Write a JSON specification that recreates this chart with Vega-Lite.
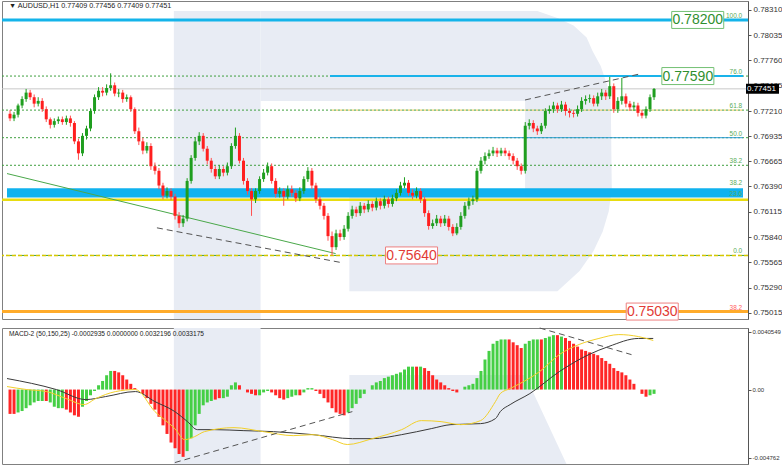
{
"$schema": "https://vega.github.io/schema/vega-lite/v6.json",
"padding": 0,
"background": "white",
"spacing": 2,
"config": {
  "view": {"stroke": "#808080", "strokeWidth": 1},
  "font": "Liberation Sans",
  "axis": {"labelFont": "Liberation Sans", "labelFontSize": 8, "labelColor": "#333333", "domainColor": "#555555", "tickColor": "#555555", "grid": false}
},
"datasets": {
  "c": [
{"h":0,"o":0.7718,"hi":0.7722,"l":0.7710,"c":0.7713,"m":-0.0017,"u":0},
{"h":2,"o":0.7713,"hi":0.7720,"l":0.7710,"c":0.7717,"m":-0.0017,"u":0},
{"h":4,"o":0.7717,"hi":0.7729,"l":0.7714,"c":0.7727,"m":-0.0016,"u":1},
{"h":6,"o":0.7727,"hi":0.7737,"l":0.7724,"c":0.7734,"m":-0.0015,"u":1},
{"h":8,"o":0.7734,"hi":0.7745,"l":0.7731,"c":0.7741,"m":-0.0013,"u":1},
{"h":10,"o":0.7741,"hi":0.7744,"l":0.7733,"c":0.7736,"m":-0.0011,"u":1},
{"h":12,"o":0.7736,"hi":0.7739,"l":0.7725,"c":0.7729,"m":-0.0009,"u":1},
{"h":14,"o":0.7729,"hi":0.7736,"l":0.7726,"c":0.7732,"m":-0.0008,"u":1},
{"h":16,"o":0.7732,"hi":0.7735,"l":0.7720,"c":0.7723,"m":-0.0008,"u":1},
{"h":18,"o":0.7723,"hi":0.7726,"l":0.7709,"c":0.7712,"m":-0.0008,"u":0},
{"h":20,"o":0.7712,"hi":0.7714,"l":0.7702,"c":0.7706,"m":-0.0009,"u":1},
{"h":22,"o":0.7706,"hi":0.7713,"l":0.7703,"c":0.7710,"m":-0.0012,"u":1},
{"h":24,"o":0.7710,"hi":0.7715,"l":0.7707,"c":0.7712,"m":-0.0013,"u":1},
{"h":26,"o":0.7712,"hi":0.7715,"l":0.7706,"c":0.7709,"m":-0.0013,"u":1},
{"h":28,"o":0.7709,"hi":0.7716,"l":0.7706,"c":0.7713,"m":-0.0014,"u":0},
{"h":30,"o":0.7713,"hi":0.7716,"l":0.7704,"c":0.7708,"m":-0.0016,"u":0},
{"h":32,"o":0.7708,"hi":0.7710,"l":0.7685,"c":0.7688,"m":-0.0018,"u":0},
{"h":34,"o":0.7688,"hi":0.7691,"l":0.7668,"c":0.7675,"m":-0.0019,"u":0},
{"h":36,"o":0.7675,"hi":0.7697,"l":0.7672,"c":0.7694,"m":-0.0012,"u":1},
{"h":38,"o":0.7694,"hi":0.7705,"l":0.7690,"c":0.7702,"m":-0.0008,"u":1},
{"h":40,"o":0.7702,"hi":0.7724,"l":0.7699,"c":0.7721,"m":-0.0004,"u":1},
{"h":42,"o":0.7721,"hi":0.7739,"l":0.7718,"c":0.7736,"m":-0.0001,"u":1},
{"h":44,"o":0.7736,"hi":0.7747,"l":0.7733,"c":0.7743,"m":0.0003,"u":1},
{"h":46,"o":0.7743,"hi":0.7747,"l":0.7737,"c":0.7741,"m":0.0006,"u":1},
{"h":48,"o":0.7741,"hi":0.7750,"l":0.7738,"c":0.7746,"m":0.0010,"u":1},
{"h":50,"o":0.7746,"hi":0.7762,"l":0.7743,"c":0.7749,"m":0.0013,"u":1},
{"h":52,"o":0.7749,"hi":0.7752,"l":0.7737,"c":0.7740,"m":0.0013,"u":0},
{"h":54,"o":0.7740,"hi":0.7745,"l":0.7736,"c":0.7741,"m":0.0012,"u":0},
{"h":56,"o":0.7741,"hi":0.7744,"l":0.7730,"c":0.7734,"m":0.0010,"u":0},
{"h":58,"o":0.7734,"hi":0.7739,"l":0.7731,"c":0.7736,"m":0.0007,"u":0},
{"h":60,"o":0.7736,"hi":0.7738,"l":0.7720,"c":0.7723,"m":0.0004,"u":0},
{"h":62,"o":0.7723,"hi":0.7725,"l":0.7696,"c":0.7699,"m":0.0001,"u":0},
{"h":64,"o":0.7699,"hi":0.7703,"l":0.7684,"c":0.7688,"m":0.0000,"u":0},
{"h":66,"o":0.7688,"hi":0.7692,"l":0.7674,"c":0.7678,"m":-0.0003,"u":0},
{"h":68,"o":0.7678,"hi":0.7687,"l":0.7675,"c":0.7683,"m":-0.0006,"u":0},
{"h":70,"o":0.7683,"hi":0.7686,"l":0.7657,"c":0.7661,"m":-0.0010,"u":0},
{"h":72,"o":0.7661,"hi":0.7665,"l":0.7652,"c":0.7656,"m":-0.0014,"u":0},
{"h":74,"o":0.7656,"hi":0.7659,"l":0.7636,"c":0.7640,"m":-0.0019,"u":0},
{"h":76,"o":0.7640,"hi":0.7643,"l":0.7625,"c":0.7629,"m":-0.0025,"u":0},
{"h":78,"o":0.7629,"hi":0.7638,"l":0.7626,"c":0.7634,"m":-0.0031,"u":0},
{"h":80,"o":0.7634,"hi":0.7637,"l":0.7624,"c":0.7628,"m":-0.0037,"u":0},
{"h":82,"o":0.7628,"hi":0.7631,"l":0.7603,"c":0.7607,"m":-0.0041,"u":0},
{"h":84,"o":0.7607,"hi":0.7611,"l":0.7594,"c":0.7599,"m":-0.0045,"u":0},
{"h":86,"o":0.7599,"hi":0.7608,"l":0.7595,"c":0.7604,"m":-0.0047,"u":0},
{"h":88,"o":0.7604,"hi":0.7648,"l":0.7601,"c":0.7645,"m":-0.0043,"u":1},
{"h":90,"o":0.7645,"hi":0.7673,"l":0.7642,"c":0.7670,"m":-0.0034,"u":1},
{"h":92,"o":0.7670,"hi":0.7692,"l":0.7667,"c":0.7688,"m":-0.0025,"u":1},
{"h":94,"o":0.7688,"hi":0.7698,"l":0.7684,"c":0.7694,"m":-0.0017,"u":1},
{"h":96,"o":0.7694,"hi":0.7697,"l":0.7677,"c":0.7680,"m":-0.0011,"u":1},
{"h":98,"o":0.7680,"hi":0.7683,"l":0.7663,"c":0.7667,"m":-0.0009,"u":1},
{"h":100,"o":0.7667,"hi":0.7670,"l":0.7654,"c":0.7658,"m":-0.0008,"u":1},
{"h":102,"o":0.7658,"hi":0.7661,"l":0.7647,"c":0.7650,"m":-0.0007,"u":0},
{"h":104,"o":0.7650,"hi":0.7662,"l":0.7647,"c":0.7658,"m":-0.0006,"u":0},
{"h":106,"o":0.7658,"hi":0.7661,"l":0.7650,"c":0.7654,"m":-0.0006,"u":1},
{"h":108,"o":0.7654,"hi":0.7665,"l":0.7651,"c":0.7661,"m":-0.0005,"u":1},
{"h":110,"o":0.7661,"hi":0.7686,"l":0.7658,"c":0.7683,"m":0.0003,"u":1},
{"h":112,"o":0.7683,"hi":0.7703,"l":0.7680,"c":0.7694,"m":0.0005,"u":1},
{"h":114,"o":0.7694,"hi":0.7697,"l":0.7664,"c":0.7667,"m":0.0003,"u":0},
{"h":116,"o":0.7667,"hi":0.7670,"l":0.7641,"c":0.7645,"m":0.0000,"u":0},
{"h":118,"o":0.7645,"hi":0.7648,"l":0.7630,"c":0.7634,"m":-0.0002,"u":0},
{"h":120,"o":0.7634,"hi":0.7637,"l":0.7607,"c":0.7625,"m":-0.0003,"u":0},
{"h":122,"o":0.7625,"hi":0.7637,"l":0.7621,"c":0.7634,"m":-0.0004,"u":0},
{"h":124,"o":0.7634,"hi":0.7650,"l":0.7631,"c":0.7647,"m":-0.0004,"u":1},
{"h":126,"o":0.7647,"hi":0.7658,"l":0.7644,"c":0.7654,"m":-0.0002,"u":1},
{"h":128,"o":0.7654,"hi":0.7665,"l":0.7651,"c":0.7661,"m":-0.0001,"u":1},
{"h":130,"o":0.7661,"hi":0.7664,"l":0.7642,"c":0.7645,"m":-0.0002,"u":0},
{"h":132,"o":0.7645,"hi":0.7648,"l":0.7627,"c":0.7631,"m":-0.0004,"u":0},
{"h":134,"o":0.7631,"hi":0.7638,"l":0.7627,"c":0.7634,"m":-0.0006,"u":0},
{"h":136,"o":0.7634,"hi":0.7637,"l":0.7618,"c":0.7628,"m":-0.0007,"u":0},
{"h":138,"o":0.7628,"hi":0.7640,"l":0.7625,"c":0.7636,"m":-0.0006,"u":1},
{"h":140,"o":0.7636,"hi":0.7640,"l":0.7628,"c":0.7632,"m":-0.0005,"u":1},
{"h":142,"o":0.7632,"hi":0.7635,"l":0.7622,"c":0.7626,"m":-0.0004,"u":1},
{"h":144,"o":0.7626,"hi":0.7638,"l":0.7623,"c":0.7634,"m":-0.0004,"u":0},
{"h":146,"o":0.7634,"hi":0.7650,"l":0.7631,"c":0.7647,"m":-0.0002,"u":1},
{"h":148,"o":0.7647,"hi":0.7660,"l":0.7644,"c":0.7656,"m":0.0001,"u":1},
{"h":150,"o":0.7656,"hi":0.7659,"l":0.7636,"c":0.7640,"m":0.0001,"u":1},
{"h":152,"o":0.7640,"hi":0.7643,"l":0.7621,"c":0.7625,"m":-0.0001,"u":0},
{"h":154,"o":0.7625,"hi":0.7628,"l":0.7614,"c":0.7618,"m":-0.0003,"u":0},
{"h":156,"o":0.7618,"hi":0.7621,"l":0.7603,"c":0.7607,"m":-0.0006,"u":0},
{"h":158,"o":0.7607,"hi":0.7610,"l":0.7580,"c":0.7585,"m":-0.0009,"u":0},
{"h":160,"o":0.7585,"hi":0.7590,"l":0.7564,"c":0.7573,"m":-0.0013,"u":0},
{"h":162,"o":0.7573,"hi":0.7592,"l":0.7570,"c":0.7588,"m":-0.0016,"u":0},
{"h":164,"o":0.7588,"hi":0.7592,"l":0.7580,"c":0.7584,"m":-0.0017,"u":0},
{"h":166,"o":0.7584,"hi":0.7597,"l":0.7581,"c":0.7593,"m":-0.0018,"u":0},
{"h":168,"o":0.7593,"hi":0.7611,"l":0.7590,"c":0.7607,"m":-0.0016,"u":1},
{"h":170,"o":0.7607,"hi":0.7618,"l":0.7604,"c":0.7614,"m":-0.0013,"u":1},
{"h":172,"o":0.7614,"hi":0.7617,"l":0.7606,"c":0.7610,"m":-0.0010,"u":1},
{"h":174,"o":0.7610,"hi":0.7622,"l":0.7607,"c":0.7618,"m":-0.0006,"u":1},
{"h":176,"o":0.7618,"hi":0.7621,"l":0.7610,"c":0.7614,"m":-0.0003,"u":1},
{"h":178,"o":0.7614,"hi":0.7624,"l":0.7611,"c":0.7620,"m":0.0000,"u":1},
{"h":180,"o":0.7620,"hi":0.7623,"l":0.7612,"c":0.7616,"m":0.0003,"u":1},
{"h":182,"o":0.7616,"hi":0.7627,"l":0.7613,"c":0.7623,"m":0.0005,"u":1},
{"h":184,"o":0.7623,"hi":0.7626,"l":0.7614,"c":0.7618,"m":0.0006,"u":1},
{"h":186,"o":0.7618,"hi":0.7629,"l":0.7615,"c":0.7625,"m":0.0008,"u":1},
{"h":188,"o":0.7625,"hi":0.7628,"l":0.7616,"c":0.7620,"m":0.0009,"u":1},
{"h":190,"o":0.7620,"hi":0.7630,"l":0.7617,"c":0.7626,"m":0.0010,"u":1},
{"h":192,"o":0.7626,"hi":0.7636,"l":0.7623,"c":0.7632,"m":0.0011,"u":1},
{"h":194,"o":0.7632,"hi":0.7644,"l":0.7629,"c":0.7640,"m":0.0012,"u":1},
{"h":196,"o":0.7640,"hi":0.7649,"l":0.7637,"c":0.7643,"m":0.0014,"u":1},
{"h":198,"o":0.7643,"hi":0.7646,"l":0.7629,"c":0.7632,"m":0.0016,"u":1},
{"h":200,"o":0.7632,"hi":0.7636,"l":0.7625,"c":0.7629,"m":0.0016,"u":1},
{"h":202,"o":0.7629,"hi":0.7638,"l":0.7626,"c":0.7634,"m":0.0016,"u":0},
{"h":204,"o":0.7634,"hi":0.7637,"l":0.7621,"c":0.7625,"m":0.0016,"u":1},
{"h":206,"o":0.7625,"hi":0.7628,"l":0.7606,"c":0.7610,"m":0.0015,"u":0},
{"h":208,"o":0.7610,"hi":0.7613,"l":0.7592,"c":0.7596,"m":0.0013,"u":0},
{"h":210,"o":0.7596,"hi":0.7603,"l":0.7593,"c":0.7599,"m":0.0010,"u":0},
{"h":212,"o":0.7599,"hi":0.7608,"l":0.7596,"c":0.7604,"m":0.0007,"u":0},
{"h":214,"o":0.7604,"hi":0.7607,"l":0.7595,"c":0.7599,"m":0.0005,"u":0},
{"h":216,"o":0.7599,"hi":0.7608,"l":0.7596,"c":0.7604,"m":0.0003,"u":0},
{"h":218,"o":0.7604,"hi":0.7607,"l":0.7591,"c":0.7595,"m":0.0001,"u":0},
{"h":220,"o":0.7595,"hi":0.7598,"l":0.7585,"c":0.7588,"m":-0.0001,"u":0},
{"h":222,"o":0.7588,"hi":0.7599,"l":0.7586,"c":0.7595,"m":-0.0002,"u":0},
{"h":224,"o":0.7595,"hi":0.7611,"l":0.7592,"c":0.7607,"m":0.0000,"u":1},
{"h":226,"o":0.7607,"hi":0.7622,"l":0.7604,"c":0.7618,"m":0.0002,"u":1},
{"h":228,"o":0.7618,"hi":0.7627,"l":0.7614,"c":0.7623,"m":0.0003,"u":1},
{"h":230,"o":0.7623,"hi":0.7629,"l":0.7619,"c":0.7625,"m":0.0004,"u":1},
{"h":232,"o":0.7625,"hi":0.7659,"l":0.7622,"c":0.7656,"m":0.0008,"u":1},
{"h":234,"o":0.7656,"hi":0.7671,"l":0.7653,"c":0.7667,"m":0.0013,"u":1},
{"h":236,"o":0.7667,"hi":0.7676,"l":0.7663,"c":0.7672,"m":0.0021,"u":1},
{"h":238,"o":0.7672,"hi":0.7679,"l":0.7669,"c":0.7675,"m":0.0027,"u":1},
{"h":240,"o":0.7675,"hi":0.7682,"l":0.7672,"c":0.7678,"m":0.0032,"u":1},
{"h":242,"o":0.7678,"hi":0.7681,"l":0.7671,"c":0.7675,"m":0.0034,"u":1},
{"h":244,"o":0.7675,"hi":0.7681,"l":0.7672,"c":0.7678,"m":0.0035,"u":1},
{"h":246,"o":0.7678,"hi":0.7681,"l":0.7672,"c":0.7675,"m":0.0035,"u":1},
{"h":248,"o":0.7675,"hi":0.7678,"l":0.7668,"c":0.7672,"m":0.0035,"u":0},
{"h":250,"o":0.7672,"hi":0.7675,"l":0.7663,"c":0.7667,"m":0.0033,"u":0},
{"h":252,"o":0.7667,"hi":0.7670,"l":0.7657,"c":0.7661,"m":0.0031,"u":0},
{"h":254,"o":0.7661,"hi":0.7664,"l":0.7652,"c":0.7656,"m":0.0029,"u":0},
{"h":256,"o":0.7656,"hi":0.7709,"l":0.7653,"c":0.7705,"m":0.0032,"u":1},
{"h":258,"o":0.7705,"hi":0.7712,"l":0.7701,"c":0.7708,"m":0.0034,"u":1},
{"h":260,"o":0.7708,"hi":0.7711,"l":0.7698,"c":0.7702,"m":0.0035,"u":1},
{"h":262,"o":0.7702,"hi":0.7705,"l":0.7695,"c":0.7699,"m":0.0035,"u":1},
{"h":264,"o":0.7699,"hi":0.7708,"l":0.7696,"c":0.7705,"m":0.0035,"u":0},
{"h":266,"o":0.7705,"hi":0.7724,"l":0.7702,"c":0.7721,"m":0.0036,"u":1},
{"h":268,"o":0.7721,"hi":0.7727,"l":0.7718,"c":0.7723,"m":0.0037,"u":1},
{"h":270,"o":0.7723,"hi":0.7731,"l":0.7719,"c":0.7727,"m":0.0038,"u":1},
{"h":272,"o":0.7727,"hi":0.7730,"l":0.7719,"c":0.7723,"m":0.0038,"u":0},
{"h":274,"o":0.7723,"hi":0.7732,"l":0.7720,"c":0.7728,"m":0.0037,"u":1},
{"h":276,"o":0.7728,"hi":0.7731,"l":0.7716,"c":0.7721,"m":0.0036,"u":0},
{"h":278,"o":0.7721,"hi":0.7724,"l":0.7714,"c":0.7719,"m":0.0034,"u":0},
{"h":280,"o":0.7719,"hi":0.7722,"l":0.7714,"c":0.7718,"m":0.0032,"u":0},
{"h":282,"o":0.7718,"hi":0.7727,"l":0.7715,"c":0.7723,"m":0.0030,"u":0},
{"h":284,"o":0.7723,"hi":0.7736,"l":0.7720,"c":0.7732,"m":0.0028,"u":0},
{"h":286,"o":0.7732,"hi":0.7738,"l":0.7728,"c":0.7734,"m":0.0027,"u":0},
{"h":288,"o":0.7734,"hi":0.7739,"l":0.7730,"c":0.7735,"m":0.0026,"u":0},
{"h":290,"o":0.7735,"hi":0.7738,"l":0.7726,"c":0.7729,"m":0.0025,"u":0},
{"h":292,"o":0.7729,"hi":0.7741,"l":0.7726,"c":0.7737,"m":0.0024,"u":0},
{"h":294,"o":0.7737,"hi":0.7745,"l":0.7733,"c":0.7741,"m":0.0022,"u":0},
{"h":296,"o":0.7741,"hi":0.7744,"l":0.7733,"c":0.7737,"m":0.0020,"u":0},
{"h":298,"o":0.7737,"hi":0.7758,"l":0.7734,"c":0.7748,"m":0.0018,"u":0},
{"h":300,"o":0.7748,"hi":0.7751,"l":0.7719,"c":0.7723,"m":0.0015,"u":0},
{"h":302,"o":0.7723,"hi":0.7736,"l":0.7719,"c":0.7732,"m":0.0013,"u":0},
{"h":304,"o":0.7732,"hi":0.7757,"l":0.7728,"c":0.7737,"m":0.0012,"u":0},
{"h":306,"o":0.7737,"hi":0.7740,"l":0.7725,"c":0.7729,"m":0.0010,"u":0},
{"h":308,"o":0.7729,"hi":0.7732,"l":0.7721,"c":0.7725,"m":0.0007,"u":0},
{"h":310,"o":0.7725,"hi":0.7731,"l":0.7721,"c":0.7727,"m":0.0004,"u":0},
{"h":312,"o":0.7727,"hi":0.7730,"l":0.7715,"c":0.7719,"m":0.0000,"u":0},
{"h":314,"o":0.7719,"hi":0.7722,"l":0.7713,"c":0.7716,"m":-0.0003,"u":0},
{"h":316,"o":0.7716,"hi":0.7726,"l":0.7713,"c":0.7723,"m":-0.0005,"u":0},
{"h":318,"o":0.7723,"hi":0.7739,"l":0.7720,"c":0.7736,"m":-0.0004,"u":1},
{"h":320,"o":0.7736,"hi":0.7746,"l":0.7733,"c":0.7745,"m":-0.0003,"u":1}
  ],
  "wm1": [
    {"g":"s","p":0.78297,"a":81.4,"b":124.5},{"g":"s","p":0.74949,"a":81.4,"b":124.5},
    {"g":"t","p":0.78297,"a":124.5,"b":262},{"g":"t","p":0.7822,"a":124.5,"b":272},{"g":"t","p":0.7814,"a":124.5,"b":280},{"g":"t","p":0.7801,"a":124.5,"b":286.5},{"g":"t","p":0.7786,"a":124.5,"b":289.5},{"g":"t","p":0.777,"a":124.5,"b":293.5},{"g":"t","p":0.775,"a":124.5,"b":296.6},{"g":"t","p":0.77319,"a":124.5,"b":298.5},
    {"g":"r","p":0.77319,"a":255.9,"b":298.5},{"g":"r","p":0.76362,"a":255.9,"b":299},
    {"g":"b","p":0.76362,"a":168.6,"b":299},{"g":"b","p":0.7612,"a":168.6,"b":297.5},{"g":"b","p":0.759,"a":168.6,"b":294.5},{"g":"b","p":0.7569,"a":168.6,"b":290},{"g":"b","p":0.7547,"a":168.6,"b":283},{"g":"b","p":0.7525,"a":168.6,"b":272}
  ],
  "wm2": [
    {"g":"s","v":0.0043,"a":81.4,"b":124.5},{"g":"s","v":-0.0052,"a":81.4,"b":124.5},
    {"g":"l","v":0.00102,"a":168.6,"b":255.9},{"g":"l","v":-0.0052,"a":168.6,"b":276.5}
  ],
  "ml": [
    {"g":"k","h":-1.5,"v":0.00077},{"g":"k","h":23,"v":0},{"g":"k","h":37.7,"v":-0.0007},{"g":"k","h":47.5,"v":-0.00049},{"g":"k","h":62.3,"v":-0.00014},{"g":"k","h":72,"v":-0.00084},{"g":"k","h":81.9,"v":-0.00154},{"g":"k","h":88.2,"v":-0.00224},{"g":"k","h":93.1,"v":-0.0028},{"g":"k","h":101.5,"v":-0.0028},{"g":"k","h":116.2,"v":-0.00287},{"g":"k","h":130.9,"v":-0.00294},{"g":"k","h":150.5,"v":-0.00315},{"g":"k","h":170.1,"v":-0.00343},{"g":"k","h":180,"v":-0.00343},{"g":"k","h":194.6,"v":-0.00315},{"g":"k","h":209.3,"v":-0.00273},{"g":"k","h":219.1,"v":-0.00245},{"g":"k","h":233.8,"v":-0.00238},{"g":"k","h":241.2,"v":-0.00203},{"g":"k","h":243.6,"v":-0.00154},{"g":"k","h":248.5,"v":-0.00105},{"g":"k","h":258.3,"v":-0.00028},{"g":"k","h":273,"v":0.00126},{"g":"k","h":287.7,"v":0.00245},{"g":"k","h":297.5,"v":0.00301},{"g":"k","h":312.3,"v":0.00357},{"g":"k","h":319.6,"v":0.00357},
    {"g":"y","h":-1.5,"v":0.00021},{"g":"y","h":8.3,"v":0},{"g":"y","h":18.1,"v":-0.00014},{"g":"y","h":27.9,"v":-0.00063},{"g":"y","h":36.8,"v":-0.00105},{"g":"y","h":42.6,"v":-0.00063},{"g":"y","h":52.5,"v":-0.00014},{"g":"y","h":62.3,"v":0},{"g":"y","h":72,"v":-0.00154},{"g":"y","h":81.9,"v":-0.00273},{"g":"y","h":86.8,"v":-0.0035},{"g":"y","h":91.7,"v":-0.00329},{"g":"y","h":96.6,"v":-0.00294},{"g":"y","h":111.3,"v":-0.00266},{"g":"y","h":126,"v":-0.00294},{"g":"y","h":140.7,"v":-0.00322},{"g":"y","h":150.5,"v":-0.00315},{"g":"y","h":160.3,"v":-0.0035},{"g":"y","h":167.6,"v":-0.00384},{"g":"y","h":180,"v":-0.00343},{"g":"y","h":194.6,"v":-0.0028},{"g":"y","h":204.4,"v":-0.00217},{"g":"y","h":214.2,"v":-0.00224},{"g":"y","h":224,"v":-0.00245},{"g":"y","h":233.8,"v":-0.00217},{"g":"y","h":241.2,"v":-0.00084},{"g":"y","h":243.6,"v":-0.00028},{"g":"y","h":248.5,"v":0.00007},{"g":"y","h":253.4,"v":0.00042},{"g":"y","h":263.2,"v":0.00126},{"g":"y","h":273,"v":0.00245},{"g":"y","h":282.8,"v":0.00315},{"g":"y","h":292.6,"v":0.00357},{"g":"y","h":302.5,"v":0.00384},{"g":"y","h":312.3,"v":0.0037},{"g":"y","h":319.6,"v":0.00343}
  ]
},
"vconcat": [
{
  "width": 746,
  "height": 318,
  "encoding": {
    "y": {"type": "quantitative", "title": null,
      "scale": {"domain": [0.74949, 0.78406], "nice": false, "zero": false},
      "axis": {"orient": "right", "values": [0.7831,0.78035,0.7776,0.77485,0.7721,0.76935,0.76665,0.7639,0.76115,0.7584,0.75565,0.7529,0.75015], "format": ".5f", "tickSize": 3, "labelPadding": 2}}
  },
  "layer": [
    {
      "data": {"name": "c"},
      "mark": {"type": "rule", "strokeWidth": 0, "opacity": 0},
      "encoding": {
        "x": {"field": "h", "type": "quantitative", "axis": null, "scale": {"domain": [-1.5, 364.2], "nice": false, "zero": false}},
        "y": {"field": "c", "type": "quantitative", "title": null}
      }
    },
    {
      "data": {"name": "wm1"},
      "mark": {"type": "area", "orient": "horizontal", "fill": "#e8ecf4"},
      "encoding": {
        "y": {"field": "p", "type": "quantitative", "title": null},
        "x": {"field": "a", "type": "quantitative", "axis": null},
        "x2": {"field": "b"},
        "detail": {"field": "g"}
      }
    },
    {
      "data": {"values": [{"p1": 0.7637, "p2": 0.7627}]},
      "mark": {"type": "rect", "fill": "#10b2ee"},
      "encoding": {
        "y": {"field": "p1", "type": "quantitative", "title": null},
        "y2": {"field": "p2"},
        "x": {"datum": -1.5, "type": "quantitative", "axis": null},
        "x2": {"datum": 364.2}
      }
    },
    {
      "data": {"values": [{"p": 0.7759}, {"p": 0.7722}, {"p": 0.7692}, {"p": 0.7662}, {"p": 0.7564}, {"p": 0.76245}]},
      "mark": {"type": "rule", "color": "#3f9f3f", "strokeDash": [2, 2], "strokeWidth": 1},
      "encoding": {"y": {"field": "p", "type": "quantitative", "title": null}}
    },
    {
      "data": {"values": [{"p": 0.7564}]},
      "mark": {"type": "rule", "color": "#d6c800", "strokeDash": [4, 2], "strokeWidth": 1.5},
      "encoding": {"y": {"field": "p", "type": "quantitative", "title": null}}
    },
    {
      "data": {"values": [{"p": 0.76245}]},
      "mark": {"type": "rule", "color": "#e8dc10", "strokeWidth": 2.5},
      "encoding": {"y": {"field": "p", "type": "quantitative", "title": null}}
    },
    {
      "data": {"values": [{"p": 0.7503}]},
      "mark": {"type": "rule", "color": "#ffab2a", "strokeWidth": 3},
      "encoding": {"y": {"field": "p", "type": "quantitative", "title": null}}
    },
    {
      "data": {"values": [{"p": 0.782}]},
      "mark": {"type": "rule", "color": "#14b4ea", "strokeWidth": 3},
      "encoding": {"y": {"field": "p", "type": "quantitative", "title": null}}
    },
    {
      "data": {"values": [{"p": 0.77451}]},
      "mark": {"type": "rule", "color": "#c8c8c8", "strokeWidth": 1},
      "encoding": {"y": {"field": "p", "type": "quantitative", "title": null}}
    },
    {
      "data": {"values": [{"p": 0.7722}]},
      "mark": {"type": "rule", "color": "#f0c850", "strokeDash": [2, 2], "strokeWidth": 1},
      "encoding": {
        "y": {"field": "p", "type": "quantitative", "title": null},
        "x": {"datum": 160, "type": "quantitative", "axis": null},
        "x2": {"datum": 364.2}
      }
    },
    {
      "data": {"values": [{"p": 0.7692}]},
      "mark": {"type": "rule", "color": "#2a9bd3", "strokeWidth": 1},
      "encoding": {
        "y": {"field": "p", "type": "quantitative", "title": null},
        "x": {"datum": 159, "type": "quantitative", "axis": null},
        "x2": {"datum": 364.2}
      }
    },
    {
      "data": {"values": [{"p": 0.7759}]},
      "mark": {"type": "rule", "color": "#19b3ea", "strokeWidth": 2},
      "encoding": {
        "y": {"field": "p", "type": "quantitative", "title": null},
        "x": {"datum": 159, "type": "quantitative", "axis": null},
        "x2": {"datum": 364.2}
      }
    },
    {
      "data": {"values": [{"g": "a", "h": -1.5, "p": 0.7653}, {"g": "a", "h": 161.8, "p": 0.7566}]},
      "mark": {"type": "line", "color": "#4aa84a", "strokeWidth": 1},
      "encoding": {
        "x": {"field": "h", "type": "quantitative", "axis": null},
        "y": {"field": "p", "type": "quantitative", "title": null},
        "detail": {"field": "g"}
      }
    },
    {
      "data": {"values": [{"g": "a", "h": 73, "p": 0.7594}, {"g": "a", "h": 165.2, "p": 0.7556}, {"g": "b", "h": 255.9, "p": 0.7733}, {"g": "b", "h": 312.3, "p": 0.7761}]},
      "mark": {"type": "line", "color": "#555555", "strokeWidth": 1, "strokeDash": [6, 4]},
      "encoding": {
        "x": {"field": "h", "type": "quantitative", "axis": null},
        "y": {"field": "p", "type": "quantitative", "title": null},
        "detail": {"field": "g"}
      }
    },
    {
      "data": {"name": "c"},
      "mark": {"type": "rule", "strokeWidth": 1},
      "encoding": {
        "x": {"field": "h", "type": "quantitative", "axis": null},
        "y": {"field": "l", "type": "quantitative", "title": null},
        "y2": {"field": "hi"},
        "color": {"condition": {"test": "datum.c >= datum.o", "value": "#1f9e1f"}, "value": "#ff5050"}
      }
    },
    {
      "data": {"name": "c"},
      "mark": {"type": "bar", "size": 3},
      "encoding": {
        "x": {"field": "h", "type": "quantitative", "axis": null},
        "y": {"field": "o", "type": "quantitative", "title": null},
        "y2": {"field": "c"},
        "color": {"condition": {"test": "datum.c >= datum.o", "value": "#1f9e1f"}, "value": "#ff1f1f"}
      }
    },
    {
      "data": {"values": [{"p": 0.782, "t": "100.0", "k": "g"}, {"p": 0.7759, "t": "76.0", "k": "g"}, {"p": 0.7722, "t": "61.8", "k": "g"}, {"p": 0.7692, "t": "50.0", "k": "g"}, {"p": 0.7662, "t": "38.2", "k": "g"}, {"p": 0.7638, "t": "38.2", "k": "g"}, {"p": 0.7626, "t": "23.6", "k": "g"}, {"p": 0.7564, "t": "0.0", "k": "g"}, {"p": 0.7503, "t": "38.2", "k": "r"}]},
      "mark": {"type": "text", "align": "right", "baseline": "bottom", "fontSize": 6.5, "dy": -1},
      "encoding": {
        "x": {"datum": 363.8, "type": "quantitative", "axis": null},
        "y": {"field": "p", "type": "quantitative", "title": null},
        "text": {"field": "t"},
        "color": {"condition": {"test": "datum.k == 'r'", "value": "#ff6060"}, "value": "#5aac5a"}
      }
    },
    {
      "data": {"values": [{"p": 0.782, "hc": 341.7, "t": "0.78200", "k": "g"}, {"p": 0.7759, "hc": 336.8, "t": "0.77590", "k": "g"}, {"p": 0.7564, "hc": 199.5, "t": "0.75640", "k": "r"}, {"p": 0.7503, "hc": 319.1, "t": "0.75030", "k": "r"}]},
      "mark": {"type": "point", "shape": "M-3.06,-1H3.06V1H-3.06Z", "size": 289, "filled": false, "fill": "white", "fillOpacity": 1, "strokeWidth": 1, "opacity": 1},
      "encoding": {
        "x": {"field": "hc", "type": "quantitative", "axis": null},
        "y": {"field": "p", "type": "quantitative", "title": null},
        "stroke": {"condition": {"test": "datum.k == 'r'", "value": "#ee8080"}, "value": "#74c074"}
      }
    },
    {
      "data": {"values": [{"p": 0.782, "hc": 341.7, "t": "0.78200", "k": "g"}, {"p": 0.7759, "hc": 336.8, "t": "0.77590", "k": "g"}, {"p": 0.7564, "hc": 199.5, "t": "0.75640", "k": "r"}, {"p": 0.7503, "hc": 319.1, "t": "0.75030", "k": "r"}]},
      "mark": {"type": "text", "align": "center", "baseline": "middle", "fontSize": 14, "dy": 0.5},
      "encoding": {
        "x": {"field": "hc", "type": "quantitative", "axis": null},
        "y": {"field": "p", "type": "quantitative", "title": null},
        "text": {"field": "t"},
        "color": {"condition": {"test": "datum.k == 'r'", "value": "#e23b36"}, "value": "#2f8f2f"}
      }
    },
    {
      "data": {"values": [{"p": 0.77451, "t": "0.77451"}]},
      "mark": {"type": "point", "shape": "M0.6,-1H7.2V1H0.6Z", "size": 100, "filled": true, "color": "black", "opacity": 1},
      "encoding": {
        "x": {"datum": 364.2, "type": "quantitative", "axis": null},
        "y": {"field": "p", "type": "quantitative", "title": null}
      }
    },
    {
      "data": {"values": [{"p": 0.77451, "t": "0.77451"}]},
      "mark": {"type": "text", "align": "left", "baseline": "middle", "fontSize": 8, "dx": 4, "color": "white"},
      "encoding": {
        "x": {"datum": 364.2, "type": "quantitative", "axis": null},
        "y": {"field": "p", "type": "quantitative", "title": null},
        "text": {"field": "t"}
      }
    },
    {
      "data": {"values": [{"p": 0.78352, "t": "▼ AUDUSD,H1  0.77409 0.77456 0.77409 0.77451"}]},
      "mark": {"type": "text", "align": "left", "baseline": "middle", "fontSize": 7.2, "dx": 2, "color": "#222222"},
      "encoding": {
        "x": {"datum": -1.5, "type": "quantitative", "axis": null},
        "y": {"field": "p", "type": "quantitative", "title": null},
        "text": {"field": "t"}
      }
    }
  ]
},
{
  "width": 746,
  "height": 136,
  "encoding": {
    "y": {"type": "quantitative", "title": null,
      "scale": {"domain": [-0.0052, 0.0043], "nice": false, "zero": false},
      "axis": {"orient": "right", "values": [0.0040549, 0, -0.004762], "labelExpr": "datum.value == 0 ? '0.00' : (datum.value > 0 ? '0.0040549' : '-0.004762')", "tickSize": 3, "labelPadding": 1, "labelFontSize": 6}}
  },
  "layer": [
    {
      "data": {"name": "wm2"},
      "mark": {"type": "area", "orient": "horizontal", "fill": "#e8ecf4"},
      "encoding": {
        "y": {"field": "v", "type": "quantitative", "title": null},
        "x": {"field": "a", "type": "quantitative", "title": null, "scale": {"domain": [-1.5, 364.2], "nice": false, "zero": false},
              "axis": {"values": [0,24,48,72,96,120,144,168,192,216,240,264,288,312], "labelExpr": "['22 Jan 2021','25 Jan 23:00','26 Jan 23:00','27 Jan 23:00','28 Jan 23:00','29 Jan 23:00','1 Feb 23:00','2 Feb 23:00','3 Feb 23:00','4 Feb 23:00','5 Feb 23:00','8 Feb 23:00','9 Feb 23:00','10 Feb 23:00'][round(datum.value/24)]", "labelAlign": "left", "labelOverlap": false, "labelBound": false, "labelFlush": false, "tickSize": 4, "labelPadding": 1, "labelFontSize": 7}},
        "x2": {"field": "b"},
        "detail": {"field": "g"}
      }
    },
    {
      "data": {"name": "c"},
      "mark": {"type": "bar", "size": 3},
      "encoding": {
        "x": {"field": "h", "type": "quantitative", "axis": null},
        "y": {"field": "m", "type": "quantitative", "title": null},
        "y2": {"datum": 0},
        "color": {"condition": {"test": "datum.u == 1", "value": "#45cf45"}, "value": "#ff2626"}
      }
    },
    {
      "data": {"name": "ml"},
      "mark": {"type": "line", "strokeWidth": 1, "interpolate": "monotone"},
      "encoding": {
        "x": {"field": "h", "type": "quantitative", "axis": null},
        "y": {"field": "v", "type": "quantitative", "title": null},
        "color": {"field": "g", "type": "nominal", "scale": {"domain": ["k", "y"], "range": ["#3a3a3a", "#f2d02a"]}, "legend": null}
      }
    },
    {
      "data": {"values": [{"g": "a", "h": 81.9, "v": -0.0051}, {"g": "a", "h": 170.1, "v": -0.00154}, {"g": "b", "h": 263.2, "v": 0.0043}, {"g": "b", "h": 308.8, "v": 0.00244}]},
      "mark": {"type": "line", "color": "#555555", "strokeWidth": 1, "strokeDash": [6, 4]},
      "encoding": {
        "x": {"field": "h", "type": "quantitative", "axis": null},
        "y": {"field": "v", "type": "quantitative", "title": null},
        "detail": {"field": "g"}
      }
    },
    {
      "data": {"values": [{"v": 0.00388, "t": "MACD-2 (50,150,25) -0.0002935 0.0000000 0.0032196 0.0033175"}]},
      "mark": {"type": "text", "align": "left", "baseline": "middle", "fontSize": 6.6, "dx": 2, "color": "#222222"},
      "encoding": {
        "x": {"datum": -1.5, "type": "quantitative", "axis": null},
        "y": {"field": "v", "type": "quantitative", "title": null},
        "text": {"field": "t"}
      }
    }
  ]
}
]
}
